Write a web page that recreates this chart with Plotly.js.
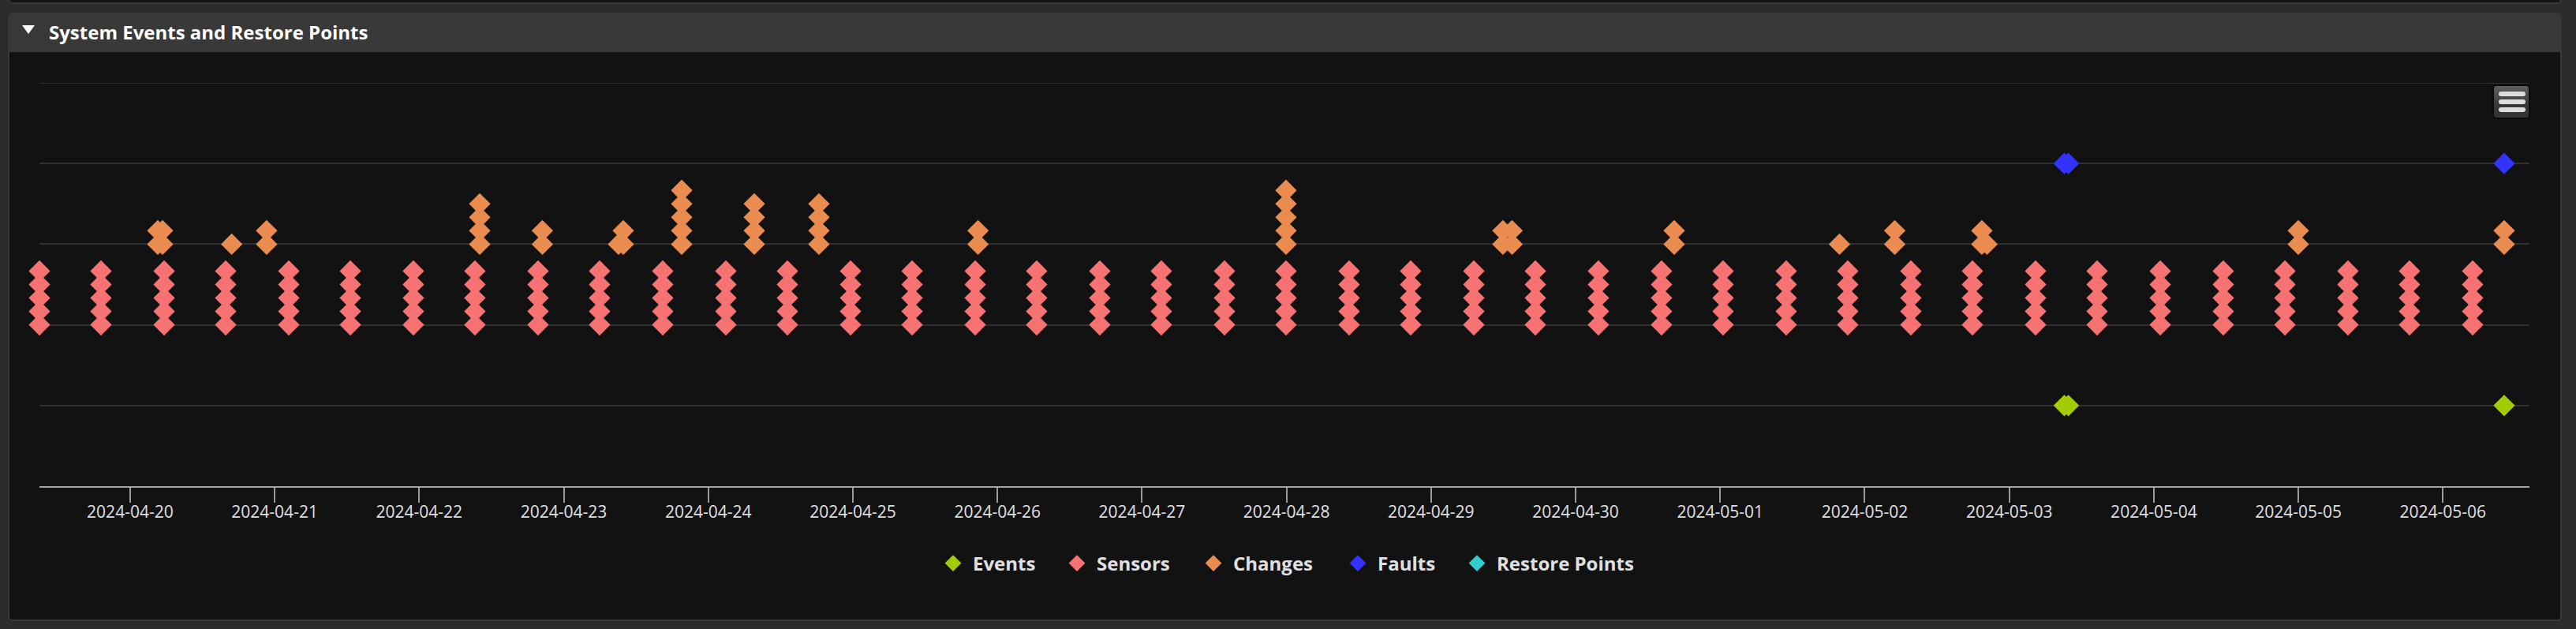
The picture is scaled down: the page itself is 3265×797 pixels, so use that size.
<!DOCTYPE html>
<html>
<head>
<meta charset="utf-8">
<script src="https://cdn.plot.ly/plotly-3.0.1.min.js"></script>
<style>
  html, body { margin:0; padding:0; width:3265px; height:797px; overflow:hidden; background:#2b2b2b; font-family:"Open Sans", sans-serif; }
  #prev { position:absolute; left:10px; top:-20px; width:3237px; height:25px; box-sizing:border-box; background:#141414; border:2px solid #383838; border-radius:6px; }
  #panel { position:absolute; left:10px; top:16px; width:3237px; height:771px; box-sizing:border-box; background:#121212; border:2px solid #393939; border-radius:6px; overflow:hidden; }
  #hdr { position:absolute; left:0; top:0; right:0; height:48px; background:#393939; }
  #tri { position:absolute; left:28px; top:32px; width:0; height:0; border-left:8px solid transparent; border-right:8px solid transparent; border-top:11px solid #ffffff; }
  #title { position:absolute; left:62px; top:16px; height:50px; line-height:50px; font-weight:700; font-size:24px; color:#ffffff; white-space:nowrap; }
  #chart { position:absolute; left:0; top:0; width:3265px; height:797px; }
  #menu { position:absolute; left:3159px; top:107px; width:48px; height:44px; box-sizing:border-box; border:2px solid #0b0b0b; border-radius:5px;
          background:linear-gradient(#5e5e5e 0%, #474747 40%, #383838 55%, #333333 100%); z-index:5; }
  .bar { position:absolute; left:6px; width:34px; height:6px; border-radius:3px; background:#dddddd; }
</style>
</head>
<body>
<div id="prev"></div>
<div id="panel"><div id="hdr"></div></div>
<div id="tri"></div>
<div id="title">System Events and Restore Points</div>
<div id="chart"></div>
<div id="menu"><div class="bar" style="top:7px"></div><div class="bar" style="top:17px"></div><div class="bar" style="top:27px"></div></div>
<script>
// ---------------- data ----------------
const categories = ['Events', 'Sensors', 'Changes', 'Faults', 'Restore Points'];
const categoryLevels = [1, 2, 3, 4, 5];

const eventTimes = ['2024-05-03 09:08', '2024-05-03 09:49', '2024-05-06 10:10'];
const eventCounts = [1, 1, 1];

const sensorTimes = [
  '2024-04-19 08:57', '2024-04-19 19:10', '2024-04-20 05:39', '2024-04-20 15:52',
  '2024-04-21 02:21', '2024-04-21 12:34', '2024-04-21 23:02', '2024-04-22 09:15',
  '2024-04-22 19:44', '2024-04-23 05:57', '2024-04-23 16:26', '2024-04-24 02:55',
  '2024-04-24 13:08', '2024-04-24 23:37', '2024-04-25 09:50', '2024-04-25 20:19',
  '2024-04-26 06:31', '2024-04-26 17:00', '2024-04-27 03:13', '2024-04-27 13:42',
  '2024-04-27 23:55', '2024-04-28 10:24', '2024-04-28 20:37', '2024-04-29 07:06',
  '2024-04-29 17:19', '2024-04-30 03:47', '2024-04-30 14:16', '2024-05-01 00:29',
  '2024-05-01 10:58', '2024-05-01 21:11', '2024-05-02 07:40', '2024-05-02 17:53',
  '2024-05-03 04:22', '2024-05-03 14:35', '2024-05-04 01:04', '2024-05-04 11:32',
  '2024-05-04 21:46', '2024-05-05 08:14', '2024-05-05 18:27', '2024-05-06 04:56'
];
const sensorCounts = [
  5, 5, 5, 5, 5, 5, 5, 5, 5, 5, 5, 5, 5, 5, 5, 5, 5, 5, 5, 5,
  5, 5, 5, 5, 5, 5, 5, 5, 5, 5, 5, 5, 5, 5, 5, 5, 5, 5, 5, 5
];

const changeTimes = [
  '2024-04-20 04:36', '2024-04-20 05:23', '2024-04-20 16:52', '2024-04-20 22:40',
  '2024-04-22 10:03', '2024-04-22 20:27', '2024-04-23 09:06', '2024-04-23 09:53',
  '2024-04-23 19:35', '2024-04-24 07:38', '2024-04-24 18:22', '2024-04-25 20:47',
  '2024-04-27 23:55', '2024-04-29 11:56', '2024-04-29 13:27', '2024-04-30 16:22',
  '2024-05-01 19:49', '2024-05-02 04:59', '2024-05-02 19:27', '2024-05-02 20:18',
  '2024-05-04 23:59', '2024-05-06 10:10'
];
const changeCounts = [2, 2, 1, 2, 4, 2, 1, 2, 5, 4, 4, 2, 5, 2, 2, 2, 1, 2, 2, 1, 2, 2];

const faultTimes = ['2024-05-03 09:08', '2024-05-03 09:49', '2024-05-06 10:10'];
const faultCounts = [1, 1, 1];

const restoreTimes = [];
const restoreCounts = [];

const xRange = ['2024-04-19 08:57', '2024-05-06 14:22'];
const firstTick = '2024-04-20';

// ---------------- style ----------------
const seriesColors = ['#a3cc00', '#f77272', '#ea8c4f', '#3333ff', '#33cccc'];
const STACK_STEP = 1 / 6;          // vertical offset of repeated markers at one time
const legendWidths = [102, 118, 128, 96, 170];

function stackPoints(times, counts, level) {
  const x = [], y = [];
  times.forEach(function (t, i) {
    for (let k = 0; k < counts[i]; k++) { x.push(t); y.push(level + k * STACK_STEP); }
  });
  return { x: x, y: y };
}

const seriesTimes = [eventTimes, sensorTimes, changeTimes, faultTimes, restoreTimes];
const seriesCounts = [eventCounts, sensorCounts, changeCounts, faultCounts, restoreCounts];

const traces = categories.map(function (name, i) {
  const p = stackPoints(seriesTimes[i], seriesCounts[i], categoryLevels[i]);
  return {
    type: 'scatter', mode: 'markers', name: name,
    x: p.x.length ? p.x : [null], y: p.y.length ? p.y : [null],
    cliponaxis: false, hoverinfo: 'skip',
    legendwidth: legendWidths[i],
    marker: { symbol: 'diamond', size: 21, color: seriesColors[i], line: { width: 0 } }
  };
});

const topLevel = categoryLevels[categoryLevels.length - 1];

const layout = {
  width: 3265, height: 797,
  paper_bgcolor: 'rgba(0,0,0,0)', plot_bgcolor: 'rgba(0,0,0,0)',
  margin: { l: 50, r: 59, t: 105, b: 181, pad: 0 },
  showlegend: true,
  xaxis: {
    type: 'date', range: xRange, tick0: firstTick, dtick: 86400000, tickformat: '%Y-%m-%d',
    ticks: 'outside', ticklen: 19, tickwidth: 2, tickcolor: '#9a9a9a',
    ticklabelstandoff: -6,
    showline: true, linecolor: '#a3a3a3', linewidth: 2,
    showgrid: false, zeroline: false, fixedrange: true,
    tickfont: { family: 'Open Sans, sans-serif', size: 21, color: '#e0e0e3' }
  },
  yaxis: {
    range: [0, topLevel], tickvals: categoryLevels, showticklabels: false,
    showgrid: true, gridcolor: '#303030', gridwidth: 2,
    zeroline: false, showline: false, ticks: '', fixedrange: true
  },
  shapes: [{
    type: 'line', layer: 'below', xref: 'paper', yref: 'y',
    x0: 0, x1: 1, y0: topLevel, y1: topLevel,
    line: { color: '#303030', width: 2 }
  }],
  legend: {
    orientation: 'h', x: 0.359, xanchor: 'left', y: -0.1918, yanchor: 'middle',
    itemwidth: 40, bgcolor: 'rgba(0,0,0,0)', borderwidth: 0,
    font: { family: 'Open Sans, sans-serif', size: 24, color: '#e0e0e3', weight: 700 }
  }
};

Plotly.newPlot('chart', traces, layout, { displayModeBar: false, staticPlot: true });
</script>
</body>
</html>
